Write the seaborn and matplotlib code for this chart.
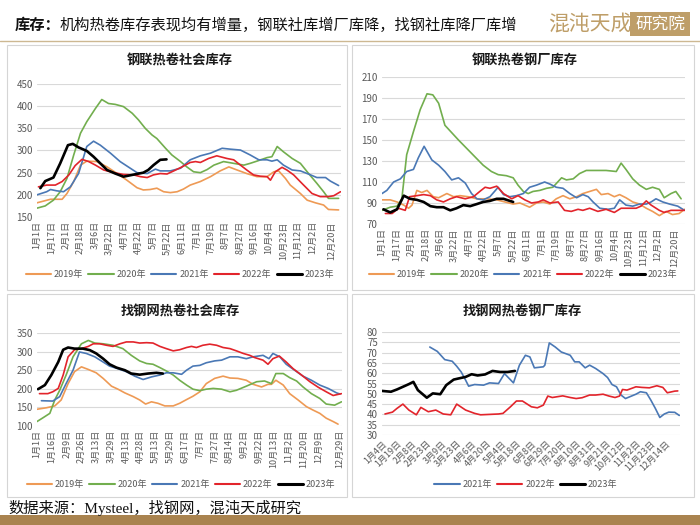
import matplotlib
matplotlib.use("Agg")
import matplotlib.pyplot as plt
import seaborn as sns
import pandas as pd
from matplotlib.patches import Rectangle
from matplotlib.lines import Line2D

sns.set_theme(style="white")
plt.rcParams["font.family"] = ["Noto Sans CJK SC", "DejaVu Sans"]
plt.rcParams["axes.unicode_minus"] = False

# ---------------- data ----------------
years5 = ["2019年", "2020年", "2021年", "2022年", "2023年"]
years3 = ["2021年", "2022年", "2023年"]

# Panel 1: 钢联热卷社会库存
p1_x19 = [0,2.8,5.2,6.2,7.6,9,10.3,12.4,14.5,16.6,18.6,20.7,22,23.4,24.8,26.2,27.6,29,30.3,31.7,33.8,35.9,37.9,39.7,41.4,43.4,45.5,47.6,49,50,51.4,52.4,54.5,55.9,57.6,59.3,60.3,62.4]
p1_v19 = [182,190,190,203,230,267,276,275,263,248,233,216,211,212,215,207,205,207,213,222,230,241,254,263,256,248,241,241,252,254,237,222,203,188,182,177,167,166]
p1_x20 = [0,1.7,3.4,4.8,6.2,7.6,9,10.3,12.1,13.4,14.8,16.2,17.9,19.7,21,22.4,23.8,24.8,26.6,27.9,29.7,31,32.4,33.8,35.2,36.6,38.6,40.7,42.8,44.1,45.5,47.6,48.6,49.7,51,52.8,54.5,56.2,57.9,59.3,60.3,62.4]
p1_v20 = [170,175,188,207,237,290,339,365,395,415,406,404,399,384,369,350,335,327,305,290,275,263,252,250,257,267,275,271,267,271,276,284,286,309,297,282,271,248,226,207,192,192]
p1_x21 = [0,2,2.8,4.1,5.5,6.9,8.6,10.3,11.7,13.1,15.2,17.2,19.3,20.7,22.8,24.5,25.5,27.6,29.7,31.7,33.8,35.9,38.3,40,42.1,44.1,45.9,47.6,48.6,49.7,51,52.8,54.5,56.6,57.9,59.7,60.7,62.4]
p1_v21 = [200,207,212,209,207,218,248,309,321,312,294,275,260,250,248,258,254,254,260,279,288,294,305,303,301,290,279,279,276,279,267,256,254,245,239,239,231,221]
p1_x22 = [0.3,2,3.8,5.2,6.6,7.9,9.3,10.7,12.1,13.8,15.9,17.9,20,21.4,22.8,24.1,25.5,26.9,28.3,30,31.7,32.8,33.8,35.5,37.2,39.3,40.7,42.1,43.4,44.8,46.2,47.6,48.3,49.3,50.7,51.7,53.1,54.8,56.9,58.6,60.3,61.4,62.8]
p1_v22 = [218,222,222,230,245,266,280,275,267,256,250,246,245,241,239,245,248,247,254,263,273,275,273,282,288,282,279,267,256,245,242,241,233,252,262,256,245,226,203,196,196,198,207]
p1_x23 = [0.7,1.7,3.4,4.8,6.4,7.4,8.6,10.3,11.7,13.1,14.5,16.2,17.9,19.7,22,23,24.1,25.5,26.8]
p1_v23 = [215,231,239,271,312,315,307,299,286,271,256,248,241,245,250,256,267,279,280]
p1_labels = ["1月1日","1月17日","2月1日","2月18日","3月6日","3月22日","4月7日","4月22日","5月7日","5月22日",
             "6月11日","7月1日","7月19日","8月7日","8月27日","9月16日","10月4日","10月23日","11月12日","12月2日","12月20日"]

# Panel 2: 钢联热卷钢厂库存
p2_x19 = [0,1.7,3.1,4.5,5.5,6.2,7.2,8.2,9.3,10.6,11.7,13.4,14.8,16.1,17.8,19.6,21.6,23.7,25.4,27.1,28.5,30.5,31.9,33.3,34.7,36,37.4,38.8,40.2,41.5,42.9,44.3,45.3,46.7,48,49.1,50.4,51.8,53.2,54.6,55.9,57.3,58.7,60,61.4,62.5]
p2_v19 = [93,93,91,88,85,88,102,100,102,96,95,99,96,97,96,94,94,93,91,89,90,86,90,91,89,94,97,94,96,99,101,103,98,99,96,98,95,91,89,85,82,78,82,79,80,84]
p2_x20 = [0,1.7,3.1,4.1,5.1,6.5,7.9,9.3,10.5,11.7,13,14.4,15.8,17.5,19.2,20.9,22.6,24,25.7,27.1,28.1,29.2,30.2,31.2,32.6,34,35.3,37.1,38.1,39.5,40.8,42.2,44.3,46.3,48.4,49.4,50.4,51.8,53.2,54.6,55.9,57.3,58.3,59.7,60.7,61.8]
p2_v20 = [83,86,87,94,136,158,179,194,193,185,164,157,150,142,134,126,120,117,116,114,107,101,99,101,102,104,105,114,112,113,118,121,121,121,120,128,122,113,107,103,105,103,95,99,101,94]
p2_x21 = [0,1,2.4,3.8,5.1,6.5,7.5,8.7,10.3,11.7,13,14.4,15.8,17.2,18.5,19.6,20.9,22.3,24,25.1,26.4,27.8,29.2,30.5,31.9,33.6,34.7,36,37.4,38.8,40.2,41.5,42.6,43.6,45,46.7,48,49.1,50.4,51.8,53.2,54.6,55.6,56.6,58,59.4,61.1,62.5]
p2_v21 = [99,102,110,113,120,122,133,144,131,126,120,112,114,109,99,94,93,96,105,98,96,97,99,105,107,110,108,105,104,99,95,98,96,91,85,84,85,93,88,87,89,89,91,94,91,89,87,83]
p2_x22 = [0.7,2.1,3.4,4.8,5.7,7.2,8.6,10,11.3,12.7,14.1,15.4,17.2,18.9,20.2,21.3,22.3,23.7,25.1,26.8,28.1,29.5,30.9,32.3,33.3,34.7,36.4,37.7,39.1,40.5,41.5,42.9,44.6,46.3,48,49.4,51.1,52.5,53.5,54.6,55.6,57.3,58.3,59.7,61.4,62.5]
p2_v22 = [80,80,85,83,96,97,98,97,93,91,94,96,94,96,101,105,104,106,99,94,97,93,90,91,93,90,91,83,82,84,83,85,82,84,81,85,85,85,87,92,88,83,81,83,83,83]
p2_x23 = [0.3,1.7,3.1,4.5,5.8,7.2,8.6,10,11.3,12.7,14.1,15.4,16.8,18.2,19.6,20.9,22.3,23.7,25.1,26.4,27.1]
p2_v23 = [84,81,84,97,94,93,91,87,86,86,83,85,88,87,89,91,92,94,94,92,91]
p2_labels = p1_labels

# Panel 3: 找钢网热卷社会库存
p3_x19 = [0,1.9,3.6,4.9,6.3,7.6,9,10.4,12,13.4,15.1,16.4,17.8,19.5,20.8,22,23.2,24.5,25.9,27.6,28.9,30.3,31.6,33,34.3,36,37.7,39.1,40.7,42.4,43.8,45.5,46.8,47.5,48.4,49.9,51.2,52.9,54.6,55.9,57.3,58.6,60,61]
p3_v19 = [145,149,154,170,214,246,259,252,243,228,207,199,189,179,170,159,165,161,154,154,161,171,180,192,214,228,234,229,228,223,212,205,212,212,223,210,187,170,152,143,134,121,112,105]
p3_x20 = [0,1.2,2.6,3.6,4.6,5.9,7.3,9,10.4,11.7,13.4,15.4,17.4,19.1,20.8,22.2,23.5,24.9,26.2,27.6,28.9,30.3,31.6,33,34.3,35.7,37.4,39.1,40.4,42.4,44.5,46.1,47.5,48.4,49.9,51.2,52.6,53.9,55.6,57.3,58.6,60.3,61.7]
p3_v20 = [112,122,134,170,196,237,286,321,330,323,321,317,308,290,275,268,266,257,248,237,223,210,199,195,199,201,199,192,196,207,219,221,214,241,241,230,221,205,187,174,159,156,165]
p3_x21 = [0.9,3.2,4.6,5.9,7.3,8.6,10,11.7,13.4,14.7,16.4,18.1,19.8,21.5,23.2,24.9,26.2,27.6,29.3,30.3,31.6,33,34.3,36,37.4,39.1,40.7,42.4,43.8,45.8,47,47.8,49.2,50.5,52.2,53.9,55.6,57.3,59,60.7,61.4]
p3_v21 = [168,167,179,214,250,299,295,286,272,261,254,246,234,225,232,237,243,243,239,250,261,263,270,275,277,286,286,281,286,290,281,295,286,266,250,234,223,210,201,189,186]
p3_x22 = [0.5,2.2,3.2,4.3,5.3,6.3,7.6,9,10.4,11.4,12.7,14.1,15.4,16.8,18.1,19.5,20.8,22.2,23.5,24.9,26.2,27.6,28.9,30.3,31.3,32.3,33.6,35,36.4,37.7,39.1,40.4,41.8,43.1,44.1,45.8,46.8,47.8,49.1,50.5,51.9,53.6,55.3,57,58.6,60,61.7]
p3_v22 = [187,187,192,201,237,286,305,308,314,321,321,317,314,321,326,326,323,324,323,314,308,302,305,311,314,311,317,320,317,311,308,302,295,290,284,277,266,281,288,272,254,237,219,204,192,182,187]
p3_x23 = [0.2,1.6,2.9,4.3,5.3,6.3,7.6,9.3,10.7,12,13.4,14.7,16.1,17.8,19.1,20.8,22.5,24.2,25.5]
p3_v23 = [199,210,237,272,305,311,308,308,304,295,281,266,257,250,241,238,241,243,241]
p3_labels = ["1月1日","1月16日","2月9日","2月26日","3月13日","3月29日","4月13日","4月28日","5月13日","5月29日",
             "6月17日","7月7日","7月27日","8月14日","9月2日","9月22日","10月13日","11月2日","11月20日","12月9日","12月29日"]

# Panel 4: 找钢网热卷钢厂库存
p4_x21 = [3.2,3.7,4.2,4.7,5,5.3,5.6,5.8,6.2,6.8,7.2,7.8,8.2,8.8,9.2,9.6,9.9,10.2,10.8,10.9,11.2,11.6,12,12.6,12.9,13.2,13.6,13.9,14.3,14.8,15.1,15.4,15.7,16,16.3,16.7,17,17.3,17.7,18,18.3,18.6,18.9,19.2,19.6,19.9]
p4_v21 = [72.7,70.6,66.6,65.8,63.4,60.6,56.6,53.7,54.5,54.2,55.3,55,59.8,55.3,63.9,68.7,67.9,62.6,63.1,63.9,74.7,72.7,70.3,68.7,65.5,65.5,62.6,63.9,62.3,59.8,57.9,54.5,53.4,49.4,47.7,48.9,49.8,51,50.5,46.9,42.9,38.5,40.2,41.1,41,39.5]
p4_x22 = [0.2,0.7,1,1.4,1.8,2.3,2.6,3.1,3.6,4.1,4.6,5,5.6,6.2,6.6,7.2,7.8,8.1,8.6,9,9.4,10,10.4,10.8,11.1,11.4,12.1,12.6,13,13.4,13.9,14.3,14.8,15.2,15.6,15.9,16.1,16.4,17,17.4,17.9,18.4,18.8,19.1,19.6,19.8]
p4_v22 = [40.2,41.1,42.9,45,42.1,39.8,43.4,41.3,42.1,40.2,39.8,45,42.1,40.5,39.8,40,40.2,40.5,43.7,46.5,46.5,43.7,43.2,44.5,48.9,48.2,49,48.2,47.7,48.1,49.4,49.4,49.8,48.9,48.2,48.9,52.1,51.8,53.4,53.1,52.9,53.9,53.1,50.5,51.3,51.4]
p4_x23 = [0,0.6,1,1.4,1.8,2.1,2.4,3,3.4,3.9,4.3,4.8,5.1,5.6,6,6.4,6.9,7.4,7.9,8.4,8.9]
p4_v23 = [51.4,51,52.1,53.4,54.7,55.8,51.8,48.1,50.2,49.8,54.2,56.9,57.4,58.2,59.5,58.9,59.4,61.1,60.6,60.6,61.1]
p4_labels = ["1月4日","1月19日","2月8日","2月23日","3月9日","3月23日","4月6日","4月20日","5月4日","5月18日",
             "6月8日","6月29日","7月20日","8月10日","8月31日","9月21日","10月12日","11月2日","11月23日","12月14日"]

# ---------------- style ----------------
COLORS = {"2019年": "#EE9A55", "2020年": "#72AE4E", "2021年": "#4A78B5",
          "2022年": "#E2242B", "2023年": "#000000"}
LW = {"2019年": 1.2, "2020年": 1.2, "2021年": 1.2, "2022年": 1.2, "2023年": 1.9}
TICK_C = "#595959"
GRID_C = "#D9D9D9"
W, H = 700, 525

fig = plt.figure(figsize=(7, 5.25), dpi=100)
fig.patch.set_facecolor("white")


def fx(px):
    return px / W


def fy(py):
    return 1 - py / H


def panel(box, title, title_xy, series, ylim, yticks, xlim, tickpos, labels, rot, leg_xy):
    l, t, r, b = box
    ax = fig.add_axes([fx(l), fy(b), fx(r - l), (b - t) / H])
    frames = [pd.DataFrame({"x": xs, "v": vs, "year": name}) for name, xs, vs in series]
    df = pd.concat(frames, ignore_index=True)
    for name in [s[0] for s in series]:
        sub = df[df["year"] == name]
        sns.lineplot(data=sub, x="x", y="v", ax=ax, color=COLORS[name], lw=LW[name],
                     estimator=None, sort=False, legend=False)
    ax.set_xlim(*xlim)
    ax.set_ylim(*ylim)
    ax.set_yticks(yticks)
    ax.set_xticks(tickpos)
    if rot == 90:
        ax.set_xticklabels(labels, rotation=90, fontsize=6.5, color=TICK_C)
    else:
        ax.set_xticklabels(labels, rotation=45, ha="right", rotation_mode="anchor",
                           fontsize=6.5, color=TICK_C)
    ax.tick_params(axis="y", labelsize=7, colors=TICK_C, length=0, pad=3)
    ax.tick_params(axis="x", length=0, pad=3)
    ax.set_xlabel("")
    ax.set_ylabel("")
    ax.yaxis.grid(True, color=GRID_C, lw=0.8)
    ax.xaxis.grid(False)
    ax.set_axisbelow(True)
    for s in ax.spines.values():
        s.set_visible(False)
    ax.set_facecolor("none")
    fig.text(fx(title_xy[0]), fy(title_xy[1]), title, ha="center", va="center",
             fontsize=9.5, fontweight="bold", color="#1a1a1a")
    handles = [Line2D([0], [0], color=COLORS[s[0]], lw=LW[s[0]] + 0.3) for s in series]
    fig.legend(handles, [s[0] for s in series], loc="center",
               bbox_to_anchor=(fx(leg_xy[0]), fy(leg_xy[1])), ncol=len(series),
               frameon=False, fontsize=6.5, handlelength=2.8, handletextpad=0.3,
               columnspacing=0.6, labelcolor=TICK_C)
    return ax


# panel frames
for (l, t, r, b) in [(7, 45, 347, 290), (352, 45, 694, 290), (7, 294, 347, 497), (352, 294, 694, 497)]:
    fig.add_artist(Rectangle((fx(l), fy(b)), fx(r - l), (b - t) / H, transform=fig.transFigure,
                             fill=False, edgecolor="#D5D5D5", lw=0.8))

ticks21 = list(range(0, 58, 3))

panel((37, 84, 341, 217), "钢联热卷社会库存", (180, 61),
      [("2019年", p1_x19, p1_v19), ("2020年", p1_x20, p1_v20), ("2021年", p1_x21, p1_v21),
       ("2022年", p1_x22, p1_v22), ("2023年", p1_x23, p1_v23)],
      (150, 450), range(150, 451, 50), (0, 62.9), ticks21 + [61], p1_labels, 90, (180, 275))

panel((382, 77, 685, 224), "钢联热卷钢厂库存", (525, 61),
      [("2019年", p2_x19, p2_v19), ("2020年", p2_x20, p2_v20), ("2021年", p2_x21, p2_v21),
       ("2022年", p2_x22, p2_v22), ("2023年", p2_x23, p2_v23)],
      (70, 210), range(70, 211, 20), (0, 62.6), ticks21 + [60.4], p2_labels, 90, (523, 275))

panel((37, 333, 342, 426), "找钢网热卷社会库存", (180, 312),
      [("2019年", p3_x19, p3_v19), ("2020年", p3_x20, p3_v20), ("2021年", p3_x21, p3_v21),
       ("2022年", p3_x22, p3_v22), ("2023年", p3_x23, p3_v23)],
      (100, 350), range(100, 351, 50), (0, 61.8), ticks21 + [61.3], p3_labels, 90, (181, 485))

panel((382, 332, 680, 435), "找钢网热卷钢厂库存", (522, 312),
      [("2021年", p4_x21, p4_v21), ("2022年", p4_x22, p4_v22), ("2023年", p4_x23, p4_v23)],
      (30, 80), range(30, 81, 5), (0, 19.95), list(range(0, 20)), p4_labels, 45, (526, 485))

# header
fig.text(fx(15), fy(25), "库存：", ha="left", va="center", fontsize=11, fontweight="bold", color="#111111")
fig.text(fx(60), fy(25), "机构热卷库存表现均有增量，钢联社库增厂库降，找钢社库降厂库增",
         ha="left", va="center", fontsize=11, color="#111111")
fig.add_artist(Line2D([0, 1], [fy(41), fy(41)], transform=fig.transFigure, color="#CDB892", lw=1.0))
fig.text(fx(590), fy(24), "混沌天成", ha="center", va="center", fontsize=15, color="#BE9E68")
fig.add_artist(Rectangle((fx(630), fy(36)), fx(60), 24 / H, transform=fig.transFigure,
                         facecolor="#BE9E68", edgecolor="none"))
fig.text(fx(660), fy(24), "研究院", ha="center", va="center", fontsize=12, color="white")

# footer
fig.text(fx(8), fy(508), "数据来源：Mysteel，找钢网，混沌天成研究", ha="left", va="center",
         fontsize=11, color="#111111", family=["Liberation Serif", "Noto Sans CJK SC"])
fig.add_artist(Rectangle((0, 0), 1, 10 / H, transform=fig.transFigure,
                         facecolor="#A9834F", edgecolor="none"))

fig.savefig("out.png", dpi=100)
